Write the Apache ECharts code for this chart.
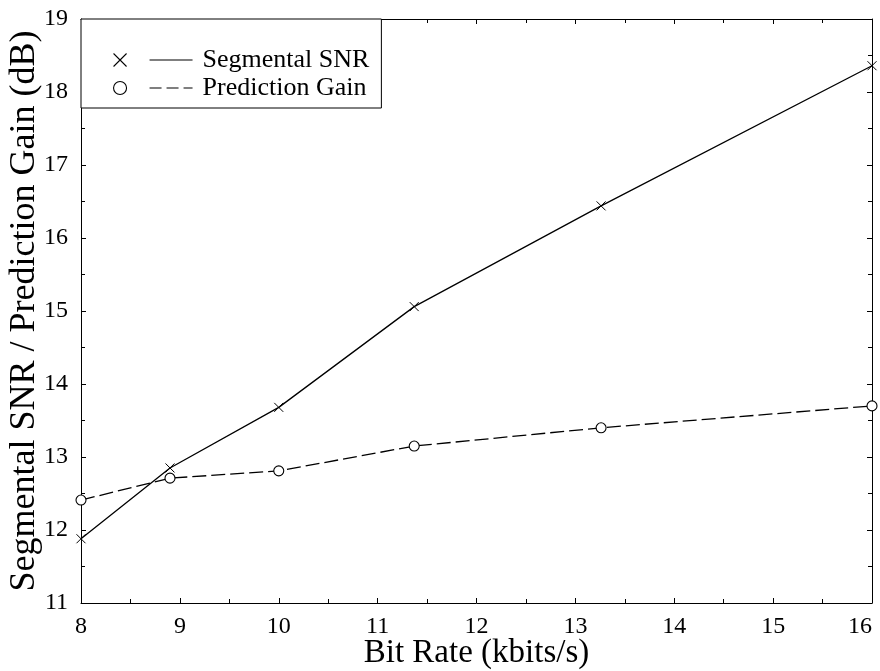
<!DOCTYPE html>
<html>
<head>
<meta charset="utf-8">
<script src="https://cdn.jsdelivr.net/npm/echarts@6/dist/echarts.min.js"></script>
<style>
html,body{margin:0;padding:0;background:#fff;}
#chart{width:880px;height:671px;}
</style>
</head>
<body>
<div id="chart"></div>
<script>
// Data
const bitRates = [8, 8.9, 10, 11.37, 13.26, 16];
const segmentalSNR = [11.88, 12.85, 13.68, 15.06, 16.44, 18.36];
const predictionGain = [12.41, 12.71, 12.81, 13.15, 13.40, 13.70];
const seriesNames = ['Segmental SNR', 'Prediction Gain'];
const xTitle = 'Bit Rate (kbits/s)';
const yTitle = 'Segmental SNR / Prediction Gain (dB)';

const FONT = "'Liberation Serif', 'Times New Roman', serif";
const BLACK = '#000';

function pairs(xs, ys) { return xs.map((x, i) => [x, ys[i]]); }

const chart = echarts.init(document.getElementById('chart'), null, {renderer: 'canvas'});

const tickCommon = {
  axisLine: {show: true, onZero: false, lineStyle: {color: BLACK, width: 1}},
  axisTick: {show: true, inside: true, length: 5, lineStyle: {color: BLACK, width: 1}},
  minorTick: {show: true, splitNumber: 2, length: 4, lineStyle: {color: BLACK, width: 1}},
  splitLine: {show: false},
  minorSplitLine: {show: false}
};

const option = {
  backgroundColor: '#fff',
  animation: false,
  grid: {left: 81, right: 8, top: 19, bottom: 68, containLabel: false, outerBoundsMode: 'none'},
  legend: {
    show: true,
    selectedMode: false,
    orient: 'vertical',
    left: 81,
    top: 19,
    padding: [27, 12, 6, 32],
    itemGap: 0,
    itemWidth: 79,
    itemHeight: 13,
    borderColor: BLACK,
    borderWidth: 1,
    backgroundColor: '#fff',
    itemStyle: {color: 'rgba(0,0,0,0)', borderColor: BLACK, borderWidth: 1.1},
    textStyle: {fontFamily: FONT, fontSize: 26, color: BLACK, lineHeight: 28, padding: [0, 0, 0, 5]},
    data: [
      {name: seriesNames[0], icon: 'path://M0,0L13,13M13,0L0,13M36,6.5L79,6.5'},
      {name: seriesNames[1], icon: 'path://M13,6.5A6.5,6.5,0,1,1,0,6.5A6.5,6.5,0,1,1,13,6.5ZM36,6.5L48,6.5M53,6.5L65,6.5M70,6.5L79,6.5'}
    ]
  },
  xAxis: [
    Object.assign({
      type: 'value', position: 'bottom', min: 8, max: 16, interval: 1,
      name: xTitle, nameLocation: 'middle', nameGap: 34, nameMoveOverlap: false,
      nameTextStyle: {fontFamily: FONT, fontSize: 33, color: BLACK},
      axisLabel: {fontFamily: FONT, fontSize: 24, color: BLACK, margin: 12, alignMaxLabel: 'right'}
    }, tickCommon),
    Object.assign({
      type: 'value', position: 'top', min: 8, max: 16, interval: 1,
      axisLabel: {show: false}
    }, tickCommon)
  ],
  yAxis: [
    Object.assign({
      type: 'value', position: 'left', min: 11, max: 19, interval: 1,
      name: yTitle, nameLocation: 'middle', nameGap: 38, nameMoveOverlap: false,
      nameTextStyle: {fontFamily: FONT, fontSize: 36, color: BLACK},
      axisLabel: {fontFamily: FONT, fontSize: 24, color: BLACK, margin: 13}
    }, tickCommon),
    Object.assign({
      type: 'value', position: 'right', min: 11, max: 19, interval: 1,
      axisLabel: {show: false}
    }, tickCommon)
  ],
  series: [
    {
      name: seriesNames[0],
      type: 'line',
      xAxisIndex: 0, yAxisIndex: 0,
      data: pairs(bitRates, segmentalSNR),
      symbol: 'path://M0,0L10,10M10,0L0,10',
      symbolSize: 9,
      showAllSymbol: true,
      lineStyle: {color: BLACK, width: 1.3, type: 'solid'},
      itemStyle: {color: 'rgba(0,0,0,0)', borderColor: BLACK, borderWidth: 1},
      z: 3
    },
    {
      name: seriesNames[1],
      type: 'line',
      xAxisIndex: 0, yAxisIndex: 0,
      data: pairs(bitRates, predictionGain),
      symbol: 'circle',
      symbolSize: 10,
      showAllSymbol: true,
      lineStyle: {color: BLACK, width: 1.3, type: [14, 5]},
      itemStyle: {color: '#fff', borderColor: BLACK, borderWidth: 1.1},
      z: 2
    }
  ]
};

chart.setOption(option);
</script>
</body>
</html>
